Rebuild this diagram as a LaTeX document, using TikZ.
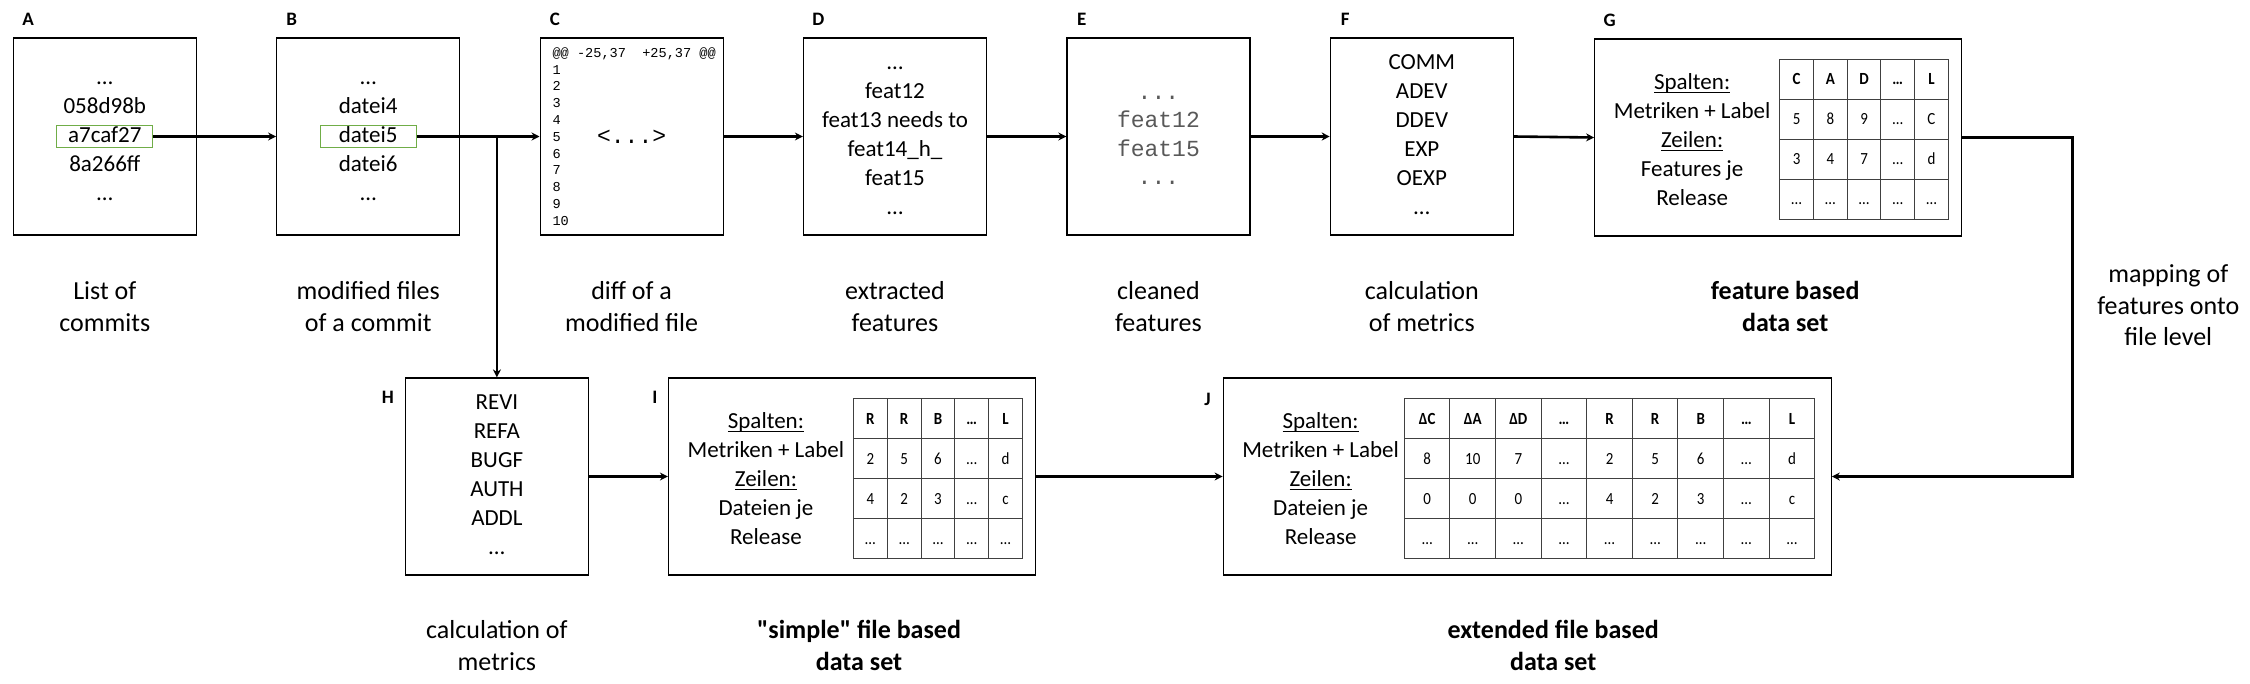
\documentclass[tikz,border=0pt]{standalone}
\usepackage{fontspec}
\setmainfont{Carlito}
\newfontfamily\codefont{Liberation Mono}
\newfontfamily\cellfont{Carlito}[FakeStretch=0.88]
\usetikzlibrary{positioning, arrows.meta, matrix}
\definecolor{hlgreen}{HTML}{70AD47}
\newcommand{\headword}[1]{\setbox0\hbox{#1}\rlap{\raisebox{-4pt}{\rule{\wd0}{1.6pt}}}\box0}
\tikzset{
    stage/.style={draw, line width=1.2pt, minimum width=183pt, minimum height=197pt, inner sep=0pt}, % one step of the pipeline
    stagetext/.style={align=center, font=\fontsize{23}{29}\selectfont}, % text inside a step
    hlbox/.style={draw=hlgreen, line width=1pt, minimum width=96pt, minimum height=22pt}, % the picked entry
    stageid/.style={font=\fontsize{19}{23}\selectfont\bfseries}, % the letters A to J
    stagelabel/.style={align=center, font=\fontsize{26}{31.5}\selectfont}, % text under a step
    boldlabel/.style={stagelabel, font=\fontsize{26}{31.5}\selectfont\bfseries},
    arrowline/.style={-{Stealth[length=8pt,width=8pt]}, line width=2.6pt}, % the connectors
    tabcell/.style={draw=black!75, line width=1pt, anchor=center, minimum height=40pt, inner sep=0pt,
        text height=11pt, text depth=0pt, font=\cellfont\fontsize{17}{20}\selectfont},
    datatable/.style={matrix of nodes, column sep=-1pt, row sep=-1pt, nodes={tabcell},
        row 1/.style={nodes={font=\cellfont\bfseries\fontsize{17}{20}\selectfont}}},
    node distance=263.4pt, % centre to centre in the upper row
}
\begin{document}
\begin{tikzpicture}[x=1pt, y=-1pt]
    \useasboundingbox (0,0) rectangle (2250,683);
    % upper row
    \node[stage] (A) at (104.8,136.5) {};
    \node[stage, right of=A] (B) {};
    \node[stage, right of=B] (C) {};
    \node[stage, right of=C] (D) {};
    \node[stage, right of=D] (E) {};
    \node[stage, right of=E] (F) {};
    \node[stage, minimum width=367pt] (G) at (1778.2,137.5) {};
    % lower row
    \node[stage] (H) at (496.9,476.5) {};
    \node[stage, minimum width=367pt] (I) at (852,476.5) {};
    \node[stage, minimum width=608pt] (J) at (1527.2,476.5) {};

    \node[stageid] at ([xshift=15.5pt, yshift=18pt]A.north west) {A};
    \node[stageid] at ([xshift=15.5pt, yshift=18pt]B.north west) {B};
    \node[stageid] at ([xshift=15.5pt, yshift=18pt]C.north west) {C};
    \node[stageid] at ([xshift=15.5pt, yshift=18pt]D.north west) {D};
    \node[stageid] at ([xshift=15.5pt, yshift=18pt]E.north west) {E};
    \node[stageid] at ([xshift=15.5pt, yshift=18pt]F.north west) {F};
    \node[stageid] at ([xshift=15.5pt, yshift=18pt]G.north west) {G};
    \node[stageid] at ([xshift=-17pt, yshift=-20pt]H.north west) {H};
    \node[stageid] at ([xshift=-13pt, yshift=-20pt]I.north west) {I};
    \node[stageid] at ([xshift=-15pt, yshift=-22pt]J.north west) {J};

    % contents
    \node[stagetext] at (A) {\strut…\\058d98b\\a7caf27\\8a266ff\\…\strut};
    \node[hlbox] (hlA) at (A) {};
    \node[stagetext] at (B) {\strut…\\datei4\\datei5\\datei6\\…\strut};
    \node[hlbox] (hlB) at (B) {};
    \node[anchor=west, align=left, font=\codefont\fontsize{13.6}{16.8}\selectfont] at ([xshift=9.5pt]C.west)
        {@@ -25,37~~+25,37 @@\\1\\2\\3\\4\\5\\6\\7\\8\\9\\10};
    \node[font=\codefont\fontsize{23}{28}\selectfont] at (C) {<...>};
    \node[stagetext] at (D) {\strut…\\feat12\\feat13 needs to\\feat14\_h\_\\feat15\\…\strut};
    \node[align=center, text=black!65, font=\codefont\fontsize{23}{28.5}\selectfont] at (E) {\strut...\\feat12\\feat15\\...\strut};
    \node[stagetext] at (F) {\strut COMM\\ADEV\\DDEV\\EXP\\OEXP\\…\strut};
    \node[stagetext] at ([xshift=98pt, yshift=-2pt]G.west) {\headword{Spalten:}\\Metriken + Label\\\headword{Zeilen:}\\Features je\\Release};
    \node[stagetext] at (H) {\strut REVI\\REFA\\BUGF\\AUTH\\ADDL\\…\strut};
    \node[stagetext] at ([xshift=98pt, yshift=-2pt]I.west) {\headword{Spalten:}\\Metriken + Label\\\headword{Zeilen:}\\Dateien je\\Release};
    \node[stagetext] at ([xshift=98pt, yshift=-2pt]J.west) {\headword{Spalten:}\\Metriken + Label\\\headword{Zeilen:}\\Dateien je\\Release};

    % tables
    \matrix (tabG) [datatable, anchor=east, nodes={minimum width=33.7pt}] at ([xshift=-10pt, yshift=-1.5pt]G.east) {
        C & A & D & … & L \\
        5 & 8 & 9 & … & C \\
        3 & 4 & 7 & … & d \\
        … & … & … & … & … \\
    };
    \matrix (tabI) [datatable, anchor=east, nodes={minimum width=33.8pt}] at ([xshift=-9.6pt, yshift=-2pt]I.east) {
        R & R & B & … & L \\
        2 & 5 & 6 & … & d \\
        4 & 2 & 3 & … & c \\
        … & … & … & … & … \\
    };
    \matrix (tabJ) [datatable, anchor=east, nodes={minimum width=45.6pt}] at ([xshift=-13pt, yshift=-2pt]J.east) {
        ΔC & ΔA & ΔD & … & R & R & B & … & L \\
        8 & 10 & 7 & … & 2 & 5 & 6 & … & d \\
        0 & 0 & 0 & … & 4 & 2 & 3 & … & c \\
        … & … & … & … & … & … & … & … & … \\
    };

    % connectors
    \draw[arrowline] (hlA.east) -- (B.west);
    \draw[arrowline] (hlB.east) -- (C.west);
    \draw[arrowline] (H.north |- hlB.east) -- (H.north);
    \draw[arrowline] (C.east) -- (D.west);
    \draw[arrowline] (D.east) -- (E.west);
    \draw[arrowline] (E.east) -- (F.west);
    \draw[arrowline] (F.east) -- (G.west);
    \coordinate (bend) at ([xshift=110pt]G.east);
    \draw[arrowline] (G.east) -- (bend) |- (J.east);
    \draw[arrowline] (H.east) -- (I.west);
    \draw[arrowline] (I.east) -- (J.west);

    % labels
    \node[stagelabel] at ([yshift=-71pt]A.south) {List of\\commits};
    \node[stagelabel] at ([yshift=-71pt]B.south) {modified files\\of a commit};
    \node[stagelabel] at ([yshift=-71pt]C.south) {diff of a\\modified file};
    \node[stagelabel] at ([yshift=-71pt]D.south) {extracted\\features};
    \node[stagelabel] at ([yshift=-71pt]E.south) {cleaned\\features};
    \node[stagelabel] at ([yshift=-71pt]F.south) {calculation\\of metrics};
    \node[boldlabel] at ([xshift=7pt, yshift=-70pt]G.south) {feature based\\data set};
    \node[stagelabel] at ([yshift=-70pt]H.south) {calculation of\\metrics};
    \node[boldlabel] at ([xshift=7pt, yshift=-70pt]I.south) {\textquotedbl simple\textquotedbl{} file based\\data set};
    \node[boldlabel] at ([xshift=26pt, yshift=-70pt]J.south) {extended file based\\data set};
    \node[stagelabel] at ([xshift=96pt, yshift=-168pt]bend) {mapping of\\features onto\\file level};
\end{tikzpicture}
\end{document}
